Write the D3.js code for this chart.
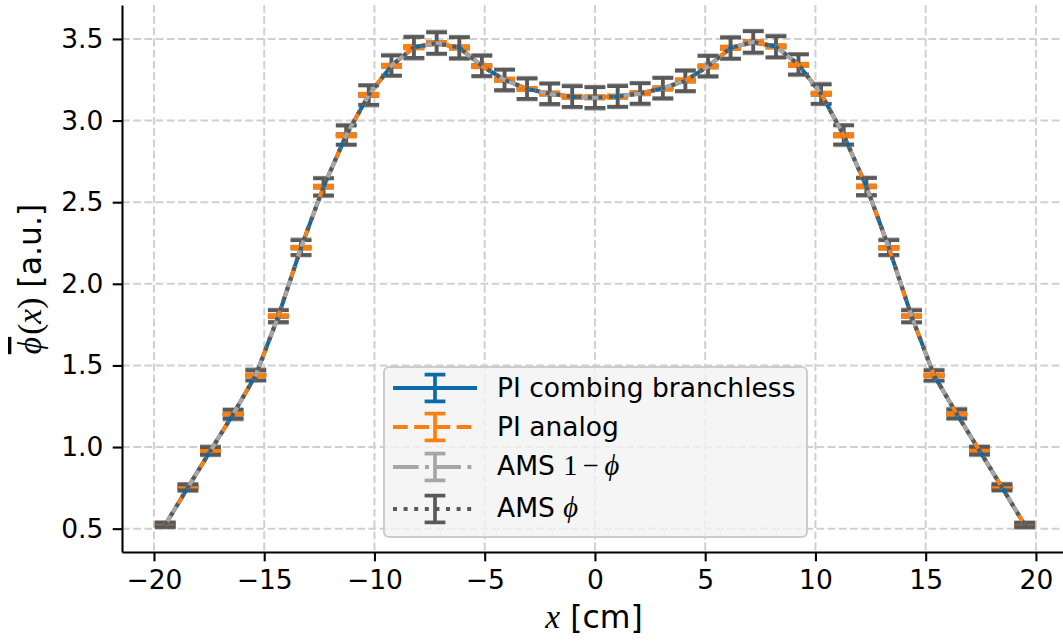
<!DOCTYPE html>
<html><head><meta charset="utf-8">
<script src="https://cdn.jsdelivr.net/npm/d3@7"></script>
<style>
html,body{margin:0;padding:0;background:#fff;}
svg{display:block;}
</style></head><body>
<svg id="chart" width="1063" height="642"></svg>
<script>
// ---------------- data ----------------
const xPositions = [-19.49,-18.46,-17.44,-16.41,-15.38,-14.36,-13.33,-12.31,-11.28,-10.26,-9.23,-8.21,-7.18,-6.15,-5.13,-4.10,-3.08,-2.05,-1.03,0.00,1.03,2.05,3.08,4.10,5.13,6.15,7.18,8.21,9.23,10.26,11.28,12.31,13.33,14.36,15.38,16.41,17.44,18.46,19.49];

const piCombing = [0.523,0.753,0.977,1.201,1.441,1.801,2.222,2.594,2.911,3.157,3.336,3.449,3.474,3.447,3.334,3.250,3.194,3.165,3.146,3.142,3.147,3.167,3.197,3.245,3.332,3.445,3.480,3.454,3.342,3.164,2.910,2.596,2.221,1.802,1.439,1.203,0.978,0.753,0.523];
const piCombingErr = [0.002,0.003,0.003,0.003,0.004,0.004,0.005,0.005,0.006,0.006,0.006,0.006,0.006,0.006,0.006,0.006,0.006,0.006,0.006,0.006,0.006,0.006,0.006,0.006,0.006,0.006,0.006,0.006,0.006,0.006,0.006,0.005,0.005,0.004,0.004,0.003,0.003,0.003,0.002];

const piAnalog = [0.522,0.754,0.975,1.202,1.439,1.803,2.221,2.596,2.909,3.158,3.335,3.450,3.473,3.448,3.333,3.251,3.193,3.166,3.145,3.143,3.146,3.168,3.196,3.246,3.331,3.446,3.479,3.455,3.341,3.165,2.909,2.597,2.220,1.803,1.440,1.202,0.979,0.752,0.524];
const piAnalogErr = [0.003,0.003,0.004,0.004,0.005,0.005,0.006,0.006,0.007,0.007,0.007,0.008,0.008,0.008,0.007,0.007,0.007,0.007,0.007,0.007,0.007,0.007,0.007,0.007,0.007,0.008,0.008,0.008,0.007,0.007,0.007,0.006,0.006,0.005,0.005,0.004,0.004,0.003,0.003];

const amsOneMinus = [0.524,0.752,0.977,1.200,1.441,1.801,2.223,2.593,2.912,3.155,3.338,3.447,3.476,3.445,3.336,3.248,3.196,3.163,3.148,3.140,3.149,3.165,3.198,3.244,3.333,3.445,3.481,3.453,3.343,3.163,2.911,2.595,2.223,1.802,1.438,1.204,0.977,0.754,0.522];
const amsOneMinusErr = [0.017,0.022,0.028,0.032,0.036,0.041,0.050,0.057,0.063,0.064,0.066,0.069,0.070,0.069,0.067,0.067,0.067,0.067,0.068,0.068,0.068,0.067,0.067,0.067,0.067,0.069,0.070,0.069,0.066,0.064,0.063,0.057,0.050,0.041,0.036,0.032,0.028,0.022,0.017];

const amsPhi = [0.523,0.753,0.976,1.201,1.440,1.802,2.222,2.594,2.911,3.156,3.337,3.448,3.475,3.446,3.335,3.249,3.195,3.164,3.147,3.141,3.148,3.166,3.199,3.243,3.334,3.444,3.482,3.452,3.344,3.162,2.912,2.596,2.222,1.801,1.439,1.203,0.978,0.753,0.523];
const amsPhiErr = [0.013,0.018,0.023,0.027,0.031,0.036,0.045,0.052,0.058,0.059,0.061,0.064,0.065,0.064,0.062,0.062,0.062,0.062,0.063,0.063,0.063,0.062,0.062,0.062,0.062,0.064,0.065,0.064,0.061,0.059,0.058,0.052,0.045,0.036,0.031,0.027,0.023,0.018,0.013];

const xTicks = [-20,-15,-10,-5,0,5,10,15,20];
const yTicks = [0.5,1.0,1.5,2.0,2.5,3.0,3.5];

// ---------------- styling ----------------
const SANS = "'DejaVu Sans', sans-serif";
const SERIF = "'Liberation Serif', 'DejaVu Serif', serif";
const FS = 26.5;
const LFS = 31.5;

const series = [
  {name:"PI combing branchless", vals:piCombing, errs:piCombingErr, color:"#0b6aa9", dash:null},
  {name:"PI analog", vals:piAnalog, errs:piAnalogErr, color:"#ff7f0e", dash:"14.8,6.4"},
  {name:"AMS 1−ϕ", vals:amsOneMinus, errs:amsOneMinusErr, color:"#a6a6a6", dash:"25.6,6.4,4,6.4"},
  {name:"AMS ϕ", vals:amsPhi, errs:amsPhiErr, color:"#595959", dash:"4,6.6"}
];

const LW = 4, ELW = 3.7, CAP = 10.4;

const svg = d3.select("#chart");
const pLeft = 122, pRight = 1067.9, pTop = 5, pBottom = 552;
const x = d3.scaleLinear().domain([-21.45, 21.45]).range([pLeft, pRight]);
const y = d3.scaleLinear().domain([0.357, 3.708]).range([pBottom, pTop]);

// grid
const grid = svg.append("g");
grid.selectAll("line.vg").data(xTicks).join("line").attr("class","vg")
  .attr("x1", d => x(d)).attr("x2", d => x(d)).attr("y1", pTop).attr("y2", pBottom)
  .attr("stroke", "#d0d0d0").attr("stroke-width", 2).attr("stroke-dasharray", "7.8,3.4");
grid.selectAll("line.hg").data(yTicks).join("line").attr("class","hg")
  .attr("x1", pLeft).attr("x2", pRight).attr("y1", d => y(d)).attr("y2", d => y(d))
  .attr("stroke", "#d0d0d0").attr("stroke-width", 2).attr("stroke-dasharray", "7.8,3.4");

// error bars (drawn below lines, like matplotlib)
const ebG = svg.append("g");
series.forEach(s => {
  const g = ebG.append("g");
  const pts = xPositions.map((xv, i) => ({x: xv, v: s.vals[i], e: s.errs[i]}));
  g.selectAll("line.stem").data(pts).join("line").attr("class","stem")
    .attr("x1", d => x(d.x)).attr("x2", d => x(d.x))
    .attr("y1", d => y(d.v - d.e)).attr("y2", d => y(d.v + d.e))
    .attr("stroke", s.color).attr("stroke-width", ELW);
  ["lo","hi"].forEach(k => {
    g.selectAll("line.cap" + k).data(pts).join("line").attr("class","cap" + k)
      .attr("x1", d => x(d.x) - CAP).attr("x2", d => x(d.x) + CAP)
      .attr("y1", d => y(k === "lo" ? d.v - d.e : d.v + d.e))
      .attr("y2", d => y(k === "lo" ? d.v - d.e : d.v + d.e))
      .attr("stroke", s.color).attr("stroke-width", ELW);
  });
});

// data lines
const lineG = svg.append("g");
series.forEach(s => {
  const line = d3.line().x((d, i) => x(xPositions[i])).y(d => y(d));
  const p = lineG.append("path").datum(s.vals)
    .attr("d", line).attr("fill", "none")
    .attr("stroke", s.color).attr("stroke-width", LW)
    .attr("stroke-linejoin", "round");
  if (s.dash) p.attr("stroke-dasharray", s.dash);
});

// axes
const gx = svg.append("g").attr("transform", `translate(0,${pBottom})`)
  .call(d3.axisBottom(x).tickValues(xTicks).tickSize(9.3).tickPadding(9.3).tickSizeOuter(0));
const gy = svg.append("g").attr("transform", `translate(${pLeft},0)`)
  .call(d3.axisLeft(y).tickValues(yTicks).tickSize(9.3).tickPadding(9.3).tickSizeOuter(0).tickFormat(d3.format(".1f")));
[gx, gy].forEach(g => {
  g.select(".domain").attr("stroke", "#000").attr("stroke-width", 2.1);
  g.selectAll(".tick line").attr("stroke", "#000").attr("stroke-width", 2.1);
  g.selectAll(".tick text").attr("font-family", SANS).attr("font-size", FS).attr("fill", "#000");
});

// axis labels
const xl = svg.append("text").attr("x", 594).attr("y", 628).attr("text-anchor", "middle")
  .attr("font-family", SANS).attr("font-size", LFS).attr("fill", "#000");
xl.append("tspan").attr("font-family", SERIF).attr("font-style", "italic").attr("font-size", LFS + 2).text("x");
xl.append("tspan").text(" [cm]");

const yl = svg.append("text").attr("transform", "translate(41,279) rotate(-90)").attr("text-anchor", "middle")
  .attr("font-family", SANS).attr("font-size", LFS).attr("fill", "#000");
yl.append("tspan").attr("font-family", SERIF).attr("font-style", "italic").attr("font-size", LFS + 2)
  .attr("text-decoration", "overline").text("ϕ");
yl.append("tspan").attr("font-family", SERIF).attr("font-size", LFS + 2).attr("dx", 2).text("(");
yl.append("tspan").attr("font-family", SERIF).attr("font-style", "italic").attr("font-size", LFS + 2).text("x");
yl.append("tspan").attr("font-family", SERIF).attr("font-size", LFS + 2).text(")");
yl.append("tspan").text(" [a.u.]");

// legend
const lg = svg.append("g");
lg.append("rect").attr("x", 384).attr("y", 367).attr("width", 423).attr("height", 170)
  .attr("rx", 5).attr("fill", "#f3f3f3").attr("fill-opacity", 0.8)
  .attr("stroke", "#cccccc").attr("stroke-width", 2);
const rowY = [388, 427, 467, 509];
const baseY = [397, 435.5, 475, 516.5];
series.forEach((s, i) => {
  const cy = rowY[i], cx = 435, h = 13.4;
  lg.append("line").attr("x1", cx).attr("x2", cx).attr("y1", cy - h).attr("y2", cy + h)
    .attr("stroke", s.color).attr("stroke-width", ELW);
  [-h, h].forEach(o => lg.append("line").attr("x1", cx - CAP).attr("x2", cx + CAP)
    .attr("y1", cy + o).attr("y2", cy + o).attr("stroke", s.color).attr("stroke-width", ELW));
  const l = lg.append("line").attr("x1", 393).attr("x2", 477).attr("y1", cy).attr("y2", cy)
    .attr("stroke", s.color).attr("stroke-width", LW);
  if (s.dash) l.attr("stroke-dasharray", s.dash);
  const t = lg.append("text").attr("x", 497).attr("y", baseY[i])
    .attr("font-family", SANS).attr("font-size", FS).attr("fill", "#000");
  if (i < 2) {
    t.text(s.name);
  } else if (i === 2) {
    t.append("tspan").text("AMS ");
    t.append("tspan").attr("font-family", SERIF).attr("font-size", FS + 2).text("1");
    t.append("tspan").attr("font-family", SERIF).attr("font-size", FS + 2).attr("dx", 5).text("−");
    t.append("tspan").attr("font-family", SERIF).attr("font-style", "italic").attr("font-size", FS + 2).attr("dx", 6).text("ϕ");
  } else {
    t.append("tspan").text("AMS ");
    t.append("tspan").attr("font-family", SERIF).attr("font-style", "italic").attr("font-size", FS + 2).text("ϕ");
  }
});
</script></body></html>
